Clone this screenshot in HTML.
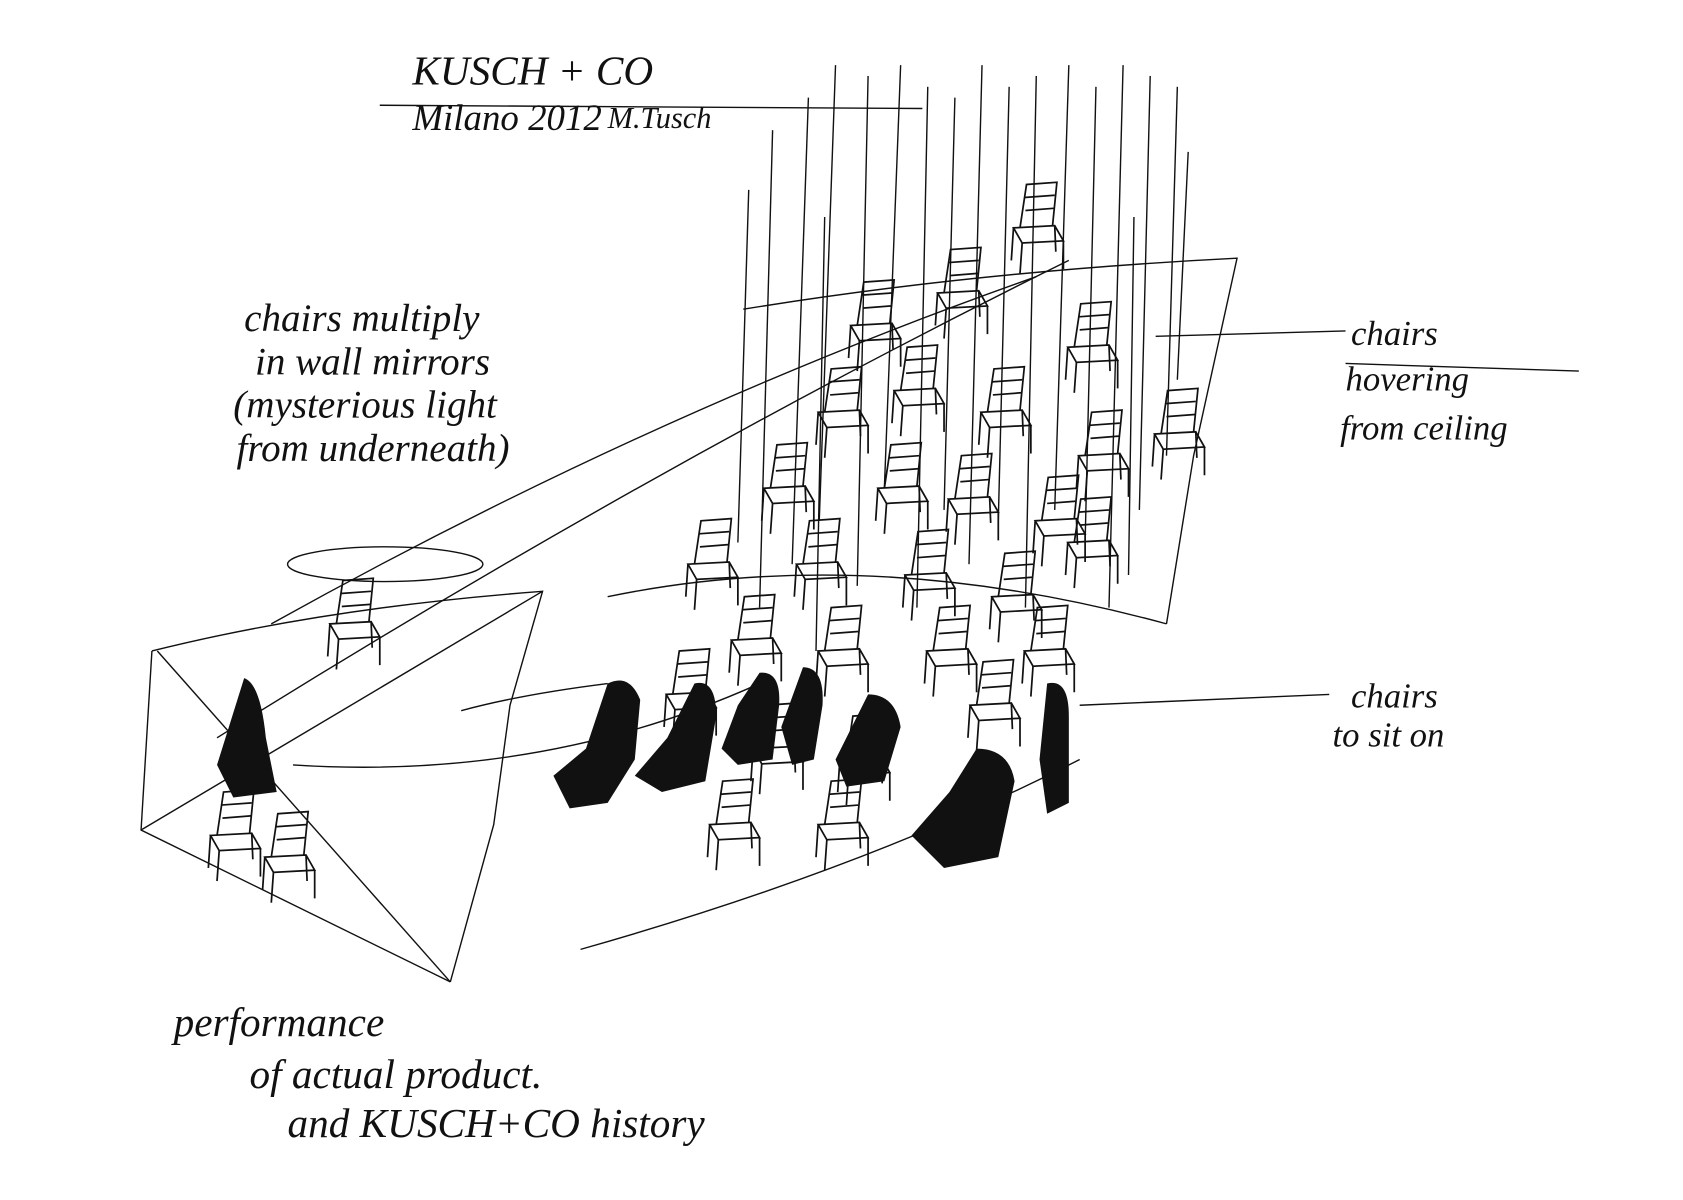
<!DOCTYPE html>
<html><head><meta charset="utf-8"><style>
html,body{margin:0;padding:0;background:#fff;}
svg{display:block}
text{font-family:"Liberation Serif",serif;font-style:italic;fill:#111;}
</style></head><body>
<svg width="1683" height="1200" viewBox="0 0 1551 1106" preserveAspectRatio="none" xmlns="http://www.w3.org/2000/svg">
<defs>
<g id="ch" fill="none" stroke="#111" stroke-width="1.6">
<path d="M0,0 L6,-40 L34,-42 L30,-2"/>
<path d="M4,-28 L32,-30 M5,-16 L31,-18"/>
<path d="M-6,0 L32,-2 L40,12 L2,14 Z"/>
<path d="M-6,0 L-8,30 M2,14 L0,42 M40,12 L40,38 M32,-2 L33,22"/>
</g>
</defs>
<rect width="1551" height="1106" fill="#fff"/>
<g stroke="#111" stroke-width="1.3" fill="none">
<!-- hanging lines -->
<path d="M690,175 L680,500"/><path d="M712,120 L700,560"/><path d="M745,90 L730,520"/>
<path d="M770,60 L755,480"/><path d="M800,70 L790,540"/><path d="M830,60 L815,450"/>
<path d="M855,80 L845,560"/><path d="M880,90 L870,470"/><path d="M905,60 L893,520"/>
<path d="M930,80 L920,480"/><path d="M955,70 L945,560"/><path d="M985,60 L972,470"/>
<path d="M1010,80 L1000,500"/><path d="M1035,60 L1022,560"/><path d="M1060,70 L1050,470"/>
<path d="M1085,80 L1075,420"/><path d="M1095,140 L1085,350"/><path d="M760,200 L752,600"/>
<path d="M1045,200 L1040,530"/>
<!-- mirror wall -->
<path d="M685,285 Q900,250 1140,238 L1100,420 L1075,575"/>
<path d="M560,550 Q800,500 1075,575"/>
<!-- left panel -->
<path d="M140,600 Q300,560 500,545 L470,650 L455,760 L415,905"/>
<path d="M140,600 L130,765 L415,905"/>
<path d="M145,600 L415,905"/>
<path d="M130,765 L500,545"/>
<ellipse cx="355" cy="520" rx="90" ry="16"/>
<!-- long connector lines -->
<path d="M250,575 Q600,380 955,255"/>
<path d="M200,680 Q600,430 985,240"/>
<path d="M270,705 Q500,720 700,630"/>
<path d="M535,875 Q800,800 995,700"/>
<path d="M425,655 Q480,640 560,630"/>
<path d="M995,650 L1225,640"/>
<path d="M1065,310 L1240,305"/>
<path d="M350,97 L850,100"/>
<path d="M1240,335 L1455,342"/>
</g>
<!-- chairs -->
<g>
<use href="#ch" x="940" y="210"/><use href="#ch" x="870" y="270"/><use href="#ch" x="790" y="300"/>
<use href="#ch" x="990" y="320"/><use href="#ch" x="1070" y="400"/><use href="#ch" x="830" y="360"/>
<use href="#ch" x="760" y="380"/><use href="#ch" x="910" y="380"/><use href="#ch" x="1000" y="420"/>
<use href="#ch" x="710" y="450"/><use href="#ch" x="815" y="450"/><use href="#ch" x="880" y="460"/>
<use href="#ch" x="960" y="480"/><use href="#ch" x="640" y="520"/><use href="#ch" x="740" y="520"/>
<use href="#ch" x="840" y="530"/><use href="#ch" x="920" y="550"/><use href="#ch" x="990" y="500"/>
<use href="#ch" x="680" y="590"/><use href="#ch" x="760" y="600"/><use href="#ch" x="860" y="600"/>
<use href="#ch" x="950" y="600"/><use href="#ch" x="620" y="640"/><use href="#ch" x="700" y="690"/>
<use href="#ch" x="780" y="700"/><use href="#ch" x="660" y="760"/><use href="#ch" x="760" y="760"/>
<use href="#ch" x="900" y="650"/><use href="#ch" x="310" y="575"/><use href="#ch" x="200" y="770"/>
<use href="#ch" x="250" y="790"/>
</g>
<!-- figures -->
<g fill="#111">
<path d="M560,630 Q580,620 590,645 L585,700 L560,740 L525,745 L510,715 L540,690 Z"/>
<path d="M640,630 Q660,625 660,660 L650,720 L610,730 L585,715 L615,680 Z"/>
<path d="M700,620 Q720,618 718,650 L712,700 L680,705 L665,690 L680,650 Z"/>
<path d="M740,615 Q760,615 758,650 L750,700 L730,705 L720,670 Z"/>
<path d="M800,640 Q825,640 830,670 L815,720 L780,725 L770,700 Z"/>
<path d="M900,690 Q930,690 935,720 L920,790 L870,800 L840,770 L875,730 Z"/>
<path d="M965,630 Q985,625 985,660 L985,740 L965,750 L958,700 Z"/>
<path d="M225,625 Q240,630 245,680 L255,730 L215,735 L200,705 Z"/>
</g>
<!-- text -->
<text x="380" y="78" font-size="38">KUSCH + CO</text>
<text x="380" y="120" font-size="34">Milano 2012</text>
<text x="560" y="118" font-size="28">M.Tusch</text>
<text x="225" y="305" font-size="36">chairs multiply</text>
<text x="235" y="345" font-size="36">in wall mirrors</text>
<text x="215" y="385" font-size="36">(mysterious light</text>
<text x="218" y="425" font-size="36">from underneath)</text>
<text x="1245" y="318" font-size="32">chairs</text>
<text x="1240" y="360" font-size="32">hovering</text>
<text x="1235" y="405" font-size="32">from ceiling</text>
<text x="1245" y="652" font-size="32">chairs</text>
<text x="1228" y="688" font-size="32">to sit on</text>
<text x="160" y="955" font-size="38">performance</text>
<text x="230" y="1003" font-size="38">of actual product.</text>
<text x="265" y="1048" font-size="38">and KUSCH+CO history</text>
</svg>
</body></html>
